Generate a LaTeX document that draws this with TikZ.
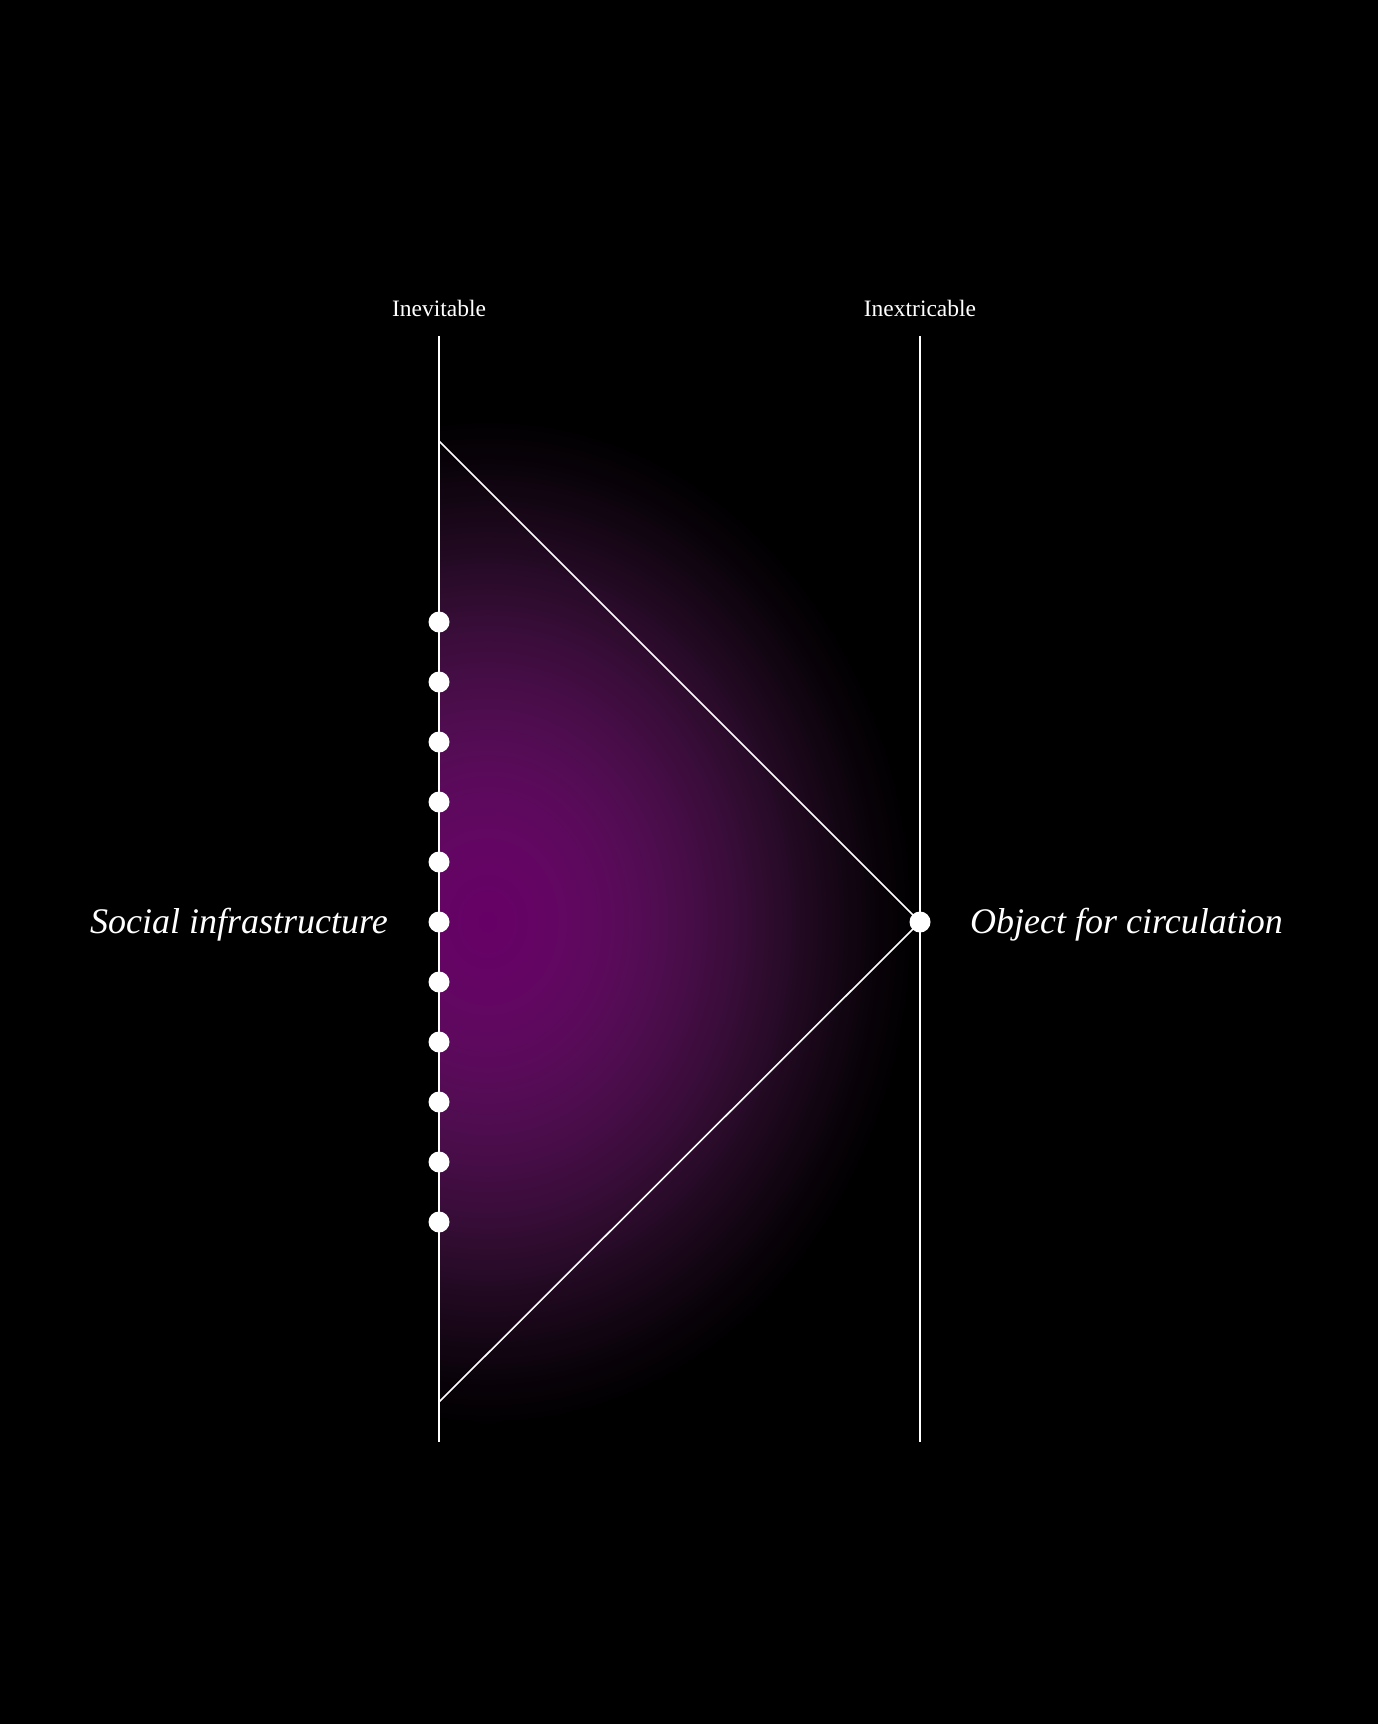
\documentclass[tikz,border=0pt]{standalone}
\usepackage{fontspec}
\setmainfont{Liberation Serif}
\tikzset{
  axisline/.style={white, line width=1.8pt},
  edgeline/.style={white, line width=1.6pt},
  dotnode/.style={circle, fill=white, draw=none, inner sep=0pt, minimum size=21pt},
  toplabel/.style={text=white, inner sep=0pt, anchor=base, font=\fontsize{23.5}{28}\selectfont},
  sidelabel/.style={text=white, inner sep=0pt, font=\fontsize{36}{43}\selectfont\itshape},
}
\begin{document}
\begin{tikzpicture}[x=1pt,y=-1pt]
\fill[black] (0,0) rectangle (1378,1724);
\useasboundingbox (0,0) rectangle (1378,1724);
% glow
\begin{scope}
  \clip (439,0) rectangle (1378,1724);
  \foreach \i in {100,99,...,1} {
    \pgfmathsetmacro\f{(1-(\i/100)^2)^1.5}
    \pgfmathtruncatemacro\rr{103*\f}
    \pgfmathtruncatemacro\gg{103*\f*0.35*sqrt(1-\f)}
    \definecolor{ringcol}{RGB}{\rr,\gg,\rr}
    \fill[ringcol] (488,922) ellipse [x radius={4.4*\i}, y radius={5.2*\i}];
  }
\end{scope}
% axes
\coordinate (Ltop) at (439,336);
\coordinate (Lbot) at (439,1442);
\coordinate (Rtop) at (920,336);
\coordinate (Rbot) at (920,1442);
\draw[axisline] (Ltop) -- (Lbot);
\draw[axisline] (Rtop) -- (Rbot);
\node[toplabel] (inev) at (439,316) {Inevitable};
\node[toplabel] (inex) at (920,316) {Inextricable};
% triangle
\coordinate (T1) at (439,441);
\coordinate (A) at (920,922);
\coordinate (T3) at (439,1402);
\draw[edgeline, line join=miter] (T1) -- (A) -- (T3);
% dots
\foreach \k in {0,...,10} {
  \node[dotnode] (d\k) at (439,{622+60*\k}) {};
}
\node[dotnode] (apex) at (A) {};
% side labels
\node[sidelabel, anchor=base east] (social) at (388,933) {Social infrastructure};
\node[sidelabel, anchor=base west] (object) at (970,933) {Object for circulation};
\end{tikzpicture}
\end{document}
